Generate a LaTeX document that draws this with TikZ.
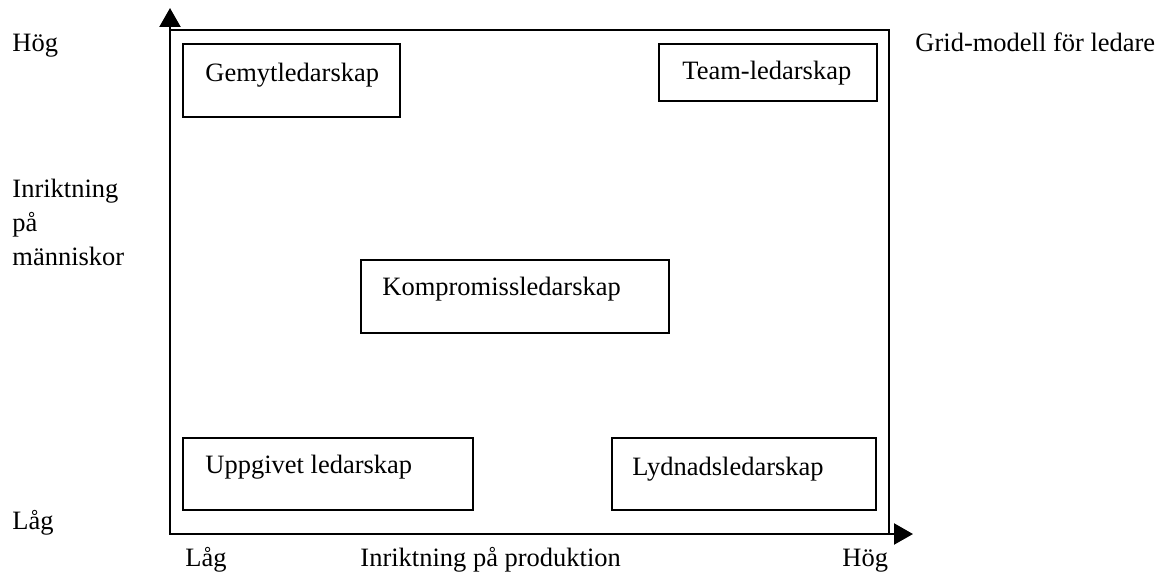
\documentclass[tikz,border=0pt]{standalone}
\usepackage{fontspec}
\setmainfont{Liberation Serif}
\usetikzlibrary{arrows.meta}
\begin{document}
\begin{tikzpicture}[x=0.453pt,y=-0.453pt,font=\fontsize{12pt}{14pt}\selectfont,
  txt/.style={anchor=base west,inner sep=0pt},
  axis/.style={line width=1.1pt,-{Triangle[width=9.5pt,length=8.6pt]}}]
\useasboundingbox (0,0) rectangle (1164,572);
%\draw[step=50,gray,very thin] (0,0) grid (1164,572); %background grid
\draw[line width=1.1pt] (170,30) rectangle (889,534); % frame
\coordinate (origo) at (170,534);
\coordinate (ytop) at (170,8);
\coordinate (xend) at (913,534);
\draw[axis] (origo) -- (ytop);
\draw[axis] (origo) -- (xend);
% the five styles
\draw[line width=0.9pt] (183,44) rectangle (400,117);
\node[txt] (gemyt) at (205,81) {Gemytledarskap};
\draw[line width=0.9pt] (659,44) rectangle (877,101);
\node[txt] (team) at (682,80) {Team-ledarskap};
\draw[line width=0.9pt] (361,260) rectangle (669,333);
\node[txt] (kompromiss) at (382,295) {Kompromissledarskap};
\draw[line width=0.9pt] (183,438) rectangle (473,510);
\node[txt] (uppgivet) at (205,473) {Uppgivet ledarskap};
\draw[line width=0.9pt] (612,438) rectangle (876,510);
\node[txt] (lydnad) at (632,475) {Lydnadsledarskap};
% axis labels
\node[txt] (yhog) at (12,52) {Hög};
\node[txt] (rubrik) at (915,52) {Grid-modell för ledare};
\node[txt] (ytext1) at (12,197) {Inriktning};
\node[txt] (ytext2) at (12,231) {på};
\node[txt] (ytext3) at (12,265) {människor};
\node[txt] (ylag) at (12,529) {Låg};
\node[txt] (xlag) at (185,566) {Låg};
\node[txt] (xtext) at (360,566) {Inriktning på produktion};
\node[txt] (xhog) at (842,566) {Hög};
\end{tikzpicture}
\end{document}
